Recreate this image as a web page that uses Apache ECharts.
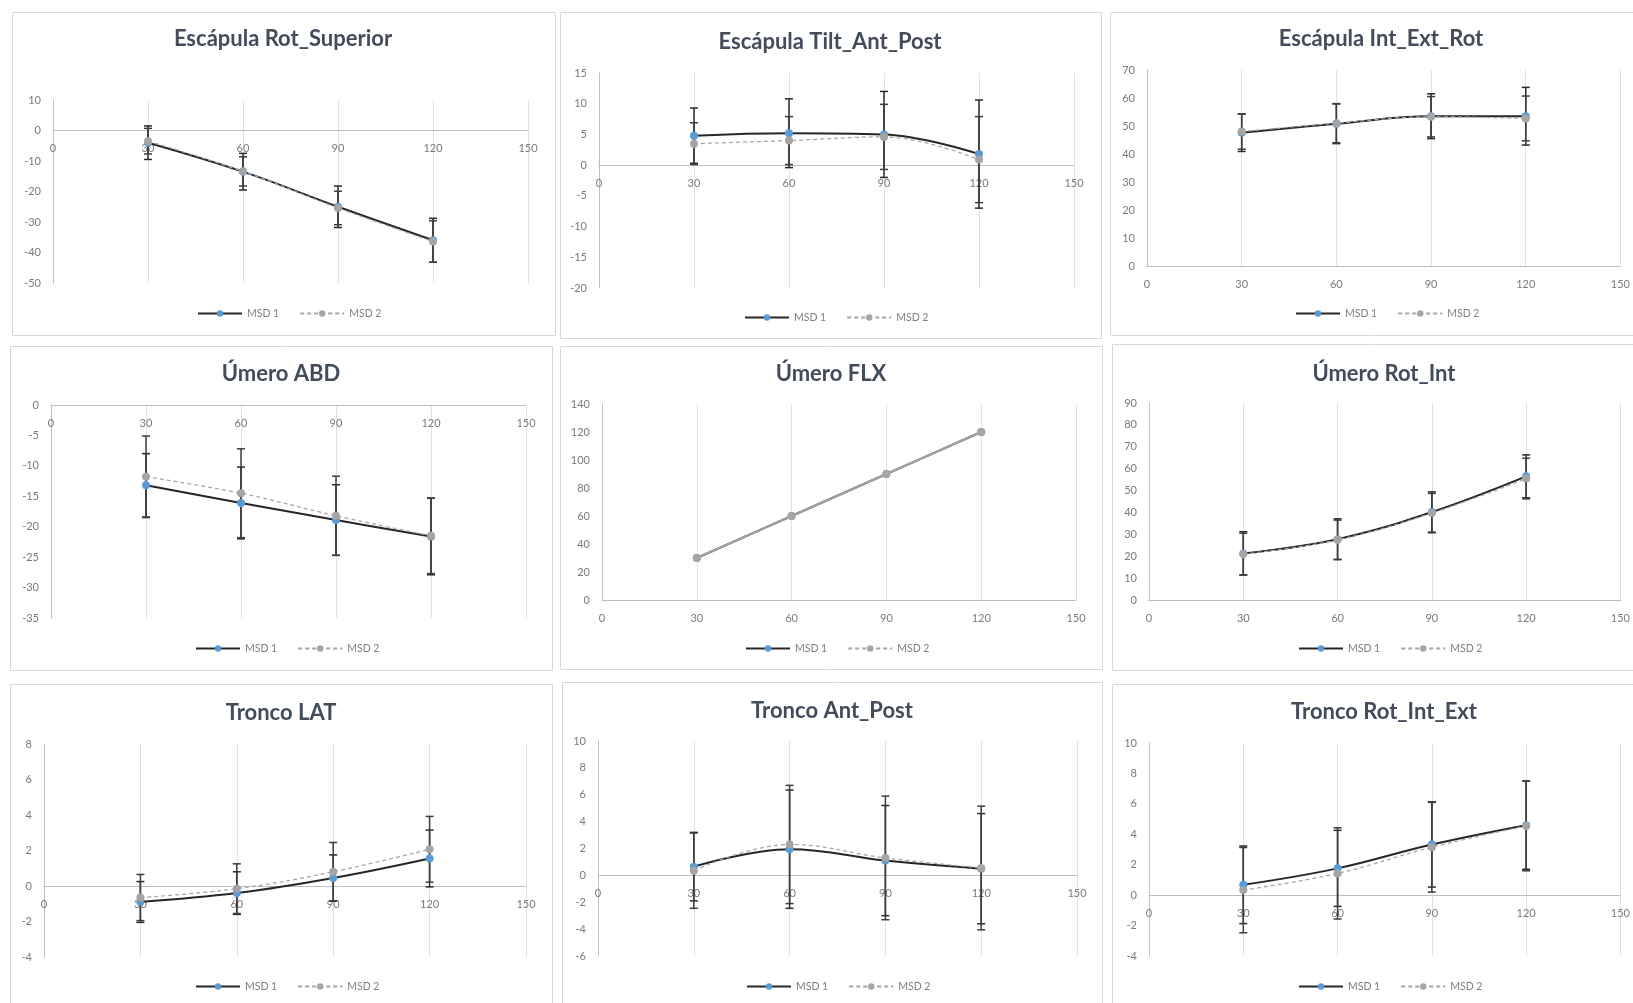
<!DOCTYPE html>
<html><head><meta charset="utf-8">
<script src="https://cdn.jsdelivr.net/npm/echarts@6.0.0/dist/echarts.min.js"></script>
<style>html,body{margin:0;padding:0;background:#fff}#c{width:1633px;height:1003px}</style>
</head><body><div id="c"></div>
<script>
// ---------------- DATA ----------------
const angles = [30, 60, 90, 120];
const seriesNames = ['MSD 1', 'MSD 2'];
const titles = ['Escápula Rot_Superior', 'Escápula Tilt_Ant_Post', 'Escápula Int_Ext_Rot',
  'Úmero ABD', 'Úmero FLX', 'Úmero Rot_Int',
  'Tronco LAT', 'Tronco Ant_Post', 'Tronco Rot_Int_Ext'];

const xMin = 0, xMax = 150, xInterval = 30;
const yMins = [-50, -20, 0, -35, 0, 0, -4, -6, -4];
const yMaxs = [10, 15, 70, 0, 140, 90, 8, 10, 10];
const yIntervals = [10, 5, 10, 5, 20, 10, 2, 2, 2];

// Escápula Rot_Superior
const escRotSup_m1 = [-4.0, -13.5, -25.0, -36.0];
const escRotSup_sd1 = [5.5, 6.0, 6.8, 7.2];
const escRotSup_m2 = [-3.5, -13.4, -25.4, -36.4];
const escRotSup_sd2 = [4.2, 4.8, 5.5, 6.8];
// Escápula Tilt_Ant_Post
const escTilt_m1 = [4.8, 5.2, 5.0, 1.8];
const escTilt_sd1 = [4.5, 5.6, 7.0, 8.8];
const escTilt_m2 = [3.5, 4.0, 4.6, 0.9];
const escTilt_sd2 = [3.4, 3.9, 5.3, 7.0];
// Escápula Int_Ext_Rot
const escIntExt_m1 = [47.6, 50.8, 53.5, 53.5];
const escIntExt_sd1 = [6.7, 7.1, 8.0, 10.3];
const escIntExt_m2 = [48.0, 51.0, 53.3, 52.7];
const escIntExt_sd2 = [6.3, 7.0, 7.2, 8.0];
// Úmero ABD
const umAbd_m1 = [-13.2, -16.1, -18.9, -21.6];
const umAbd_sd1 = [5.2, 5.9, 5.8, 6.3];
const umAbd_m2 = [-11.8, -14.5, -18.2, -21.5];
const umAbd_sd2 = [6.7, 7.3, 6.5, 6.2];
// Úmero FLX
const umFlx_m1 = [30, 60, 90, 120];
const umFlx_sd1 = [0, 0, 0, 0];
const umFlx_m2 = [30, 60, 90, 120];
const umFlx_sd2 = [0, 0, 0, 0];
// Úmero Rot_Int
const umRot_m1 = [21.3, 27.8, 40.2, 56.5];
const umRot_sd1 = [9.9, 9.3, 9.2, 9.8];
const umRot_m2 = [21.0, 27.5, 39.7, 55.5];
const umRot_sd2 = [9.5, 9.0, 9.0, 9.3];
// Tronco LAT
const trLat_m1 = [-0.9, -0.4, 0.45, 1.55];
const trLat_sd1 = [1.15, 1.2, 1.3, 1.6];
const trLat_m2 = [-0.65, -0.15, 0.8, 2.07];
const trLat_sd2 = [1.3, 1.4, 1.65, 1.85];
// Tronco Ant_Post
const trAp_m1 = [0.65, 1.95, 1.1, 0.5];
const trAp_sd1 = [2.55, 4.4, 4.1, 4.1];
const trAp_m2 = [0.35, 2.3, 1.3, 0.55];
const trAp_sd2 = [2.8, 4.4, 4.6, 4.6];
// Tronco Rot_Int_Ext
const trRot_m1 = [0.68, 1.76, 3.33, 4.6];
const trRot_sd1 = [2.55, 2.5, 2.8, 2.9];
const trRot_m2 = [0.33, 1.43, 3.15, 4.55];
const trRot_sd2 = [2.8, 3.0, 2.95, 2.95];

const panelData = [
  [escRotSup_m1, escRotSup_sd1, escRotSup_m2, escRotSup_sd2],
  [escTilt_m1, escTilt_sd1, escTilt_m2, escTilt_sd2],
  [escIntExt_m1, escIntExt_sd1, escIntExt_m2, escIntExt_sd2],
  [umAbd_m1, umAbd_sd1, umAbd_m2, umAbd_sd2],
  [umFlx_m1, umFlx_sd1, umFlx_m2, umFlx_sd2],
  [umRot_m1, umRot_sd1, umRot_m2, umRot_sd2],
  [trLat_m1, trLat_sd1, trLat_m2, trLat_sd2],
  [trAp_m1, trAp_sd1, trAp_m2, trAp_sd2],
  [trRot_m1, trRot_sd1, trRot_m2, trRot_sd2]
];

// ---------------- LAYOUT ----------------
const layout = [
 {grid:[53,100,475,183], box:[12,12,543,323], title:[283,42], legend:[283,314]},
 {grid:[599,73,475,215], box:[560,12,541,326], title:[830,45], legend:[830,318]},
 {grid:[1147,70,479,196], box:[1110,12,540,323], title:[1381,42], legend:[1381,314]},
 {grid:[51,405,475,213], box:[10,346,542,324], title:[281,377], legend:[281,649]},
 {grid:[602,404,474,196], box:[560,346,542,323], title:[831,377], legend:[831,649]},
 {grid:[1149,403,479,197], box:[1112,344,540,326], title:[1384,377], legend:[1384,649]},
 {grid:[44,744,482,213], box:[10,684,542,330], title:[281,716], legend:[281,987]},
 {grid:[598,741,479,215], box:[562,682,540,330], title:[832,714], legend:[832,987]},
 {grid:[1149,743,479,213], box:[1112,684,540,330], title:[1384,715], legend:[1384,987]}
];

const FONT = 'Lato, "Open Sans", sans-serif';
const C1_LINE = '#262626', C1_MARK = '#5B9BD5';
const C2_LINE = '#A5A5A5', C2_MARK = '#A5A5A5';
const TITLE_SIZE = 22;

function makeErr(color) {
  return function (params, api) {
    const x = api.value(0), lo = api.value(1), hi = api.value(2);
    if (!(hi - lo > 0)) return { type: 'group', children: [] };
    const a = api.coord([x, lo]), b = api.coord([x, hi]);
    const w = 4;
    const st = { stroke: color, lineWidth: 1.5 };
    return { type: 'group', children: [
      { type: 'line', shape: { x1: a[0], y1: a[1], x2: b[0], y2: b[1] }, style: st },
      { type: 'line', shape: { x1: a[0]-w, y1: a[1], x2: a[0]+w, y2: a[1] }, style: st },
      { type: 'line', shape: { x1: b[0]-w, y1: b[1], x2: b[0]+w, y2: b[1] }, style: st }
    ]};
  };
}

const grids = [], xAxes = [], yAxes = [], series = [], titleArr = [], legends = [], graphics = [];

layout.forEach((L, i) => {
  graphics.push({ type: 'rect', shape: { x: L.box[0] + 0.5, y: L.box[1] + 0.5, width: L.box[2], height: L.box[3] },
    style: { fill: '#fff', stroke: '#d9d9d9', lineWidth: 1 }, z: -10, silent: true });
  grids.push({ left: L.grid[0], top: L.grid[1], width: L.grid[2], height: L.grid[3], containLabel: false });
  titleArr.push({ text: titles[i], left: L.title[0], top: L.title[1] - Math.round(TITLE_SIZE * 0.62), textAlign: 'center', padding: 0,
    textStyle: { fontFamily: FONT, fontSize: TITLE_SIZE, fontWeight: 'bold', color: '#434c5b' } });
  legends.push({ data: seriesNames, left: L.legend[0] - 86, top: L.legend[1] - 6, itemWidth: 44, itemHeight: 8,
    itemGap: 20, padding: 0, selectedMode: false,
    textStyle: { fontFamily: FONT, fontSize: 10.5, color: '#7f7f7f' } });
  // place the x axis (line + labels) at y = 0 like the original
  const h = L.grid[3];
  const zeroOffset = -Math.round(h * (0 - yMins[i]) / (yMaxs[i] - yMins[i]));
  xAxes.push({ type: 'value', gridIndex: i, min: xMin, max: xMax, interval: xInterval,
    position: 'bottom', offset: zeroOffset,
    axisLine: { show: true, onZero: false, lineStyle: { color: '#bfbfbf', width: 1 } },
    axisTick: { show: false },
    axisLabel: { fontFamily: FONT, fontSize: 11, color: '#7a7a7a', margin: 13 },
    splitLine: { show: true, lineStyle: { color: '#e2e2e2', width: 1 } } });
  yAxes.push({ type: 'value', gridIndex: i, min: yMins[i], max: yMaxs[i], interval: yIntervals[i],
    axisLine: { show: true, onZero: false, lineStyle: { color: '#bfbfbf', width: 1 } },
    axisTick: { show: false },
    axisLabel: { fontFamily: FONT, fontSize: 11, color: '#7a7a7a', margin: 12 },
    splitLine: { show: false } });

  const [m1, s1, m2, s2] = panelData[i];
  series.push({ type: 'custom', name: 'err1_' + i, xAxisIndex: i, yAxisIndex: i, z: 2, silent: true,
    renderItem: makeErr('#2a2a2a'), encode: { x: 0, y: [1, 2] },
    data: angles.map((a, k) => [a, m1[k] - s1[k], m1[k] + s1[k]]) });
  series.push({ type: 'custom', name: 'err2_' + i, xAxisIndex: i, yAxisIndex: i, z: 2, silent: true,
    renderItem: makeErr('#3d3d3d'), encode: { x: 0, y: [1, 2] },
    data: angles.map((a, k) => [a, m2[k] - s2[k], m2[k] + s2[k]]) });
  series.push({ type: 'line', name: seriesNames[0], xAxisIndex: i, yAxisIndex: i, z: 3, silent: true,
    smooth: 0.4, symbol: 'circle', symbolSize: 8,
    itemStyle: { color: C1_MARK }, lineStyle: { color: C1_LINE, width: 2 },
    data: angles.map((a, k) => [a, m1[k]]) });
  series.push({ type: 'line', name: seriesNames[1], xAxisIndex: i, yAxisIndex: i, z: 4, silent: true,
    smooth: 0.4, symbol: 'circle', symbolSize: 8,
    itemStyle: { color: C2_MARK }, lineStyle: { color: C2_LINE, width: i === 4 ? 2 : 1.25, type: i === 4 ? 'solid' : [4, 3] },
    data: angles.map((a, k) => [a, m2[k]]) });
});

const chart = echarts.init(document.getElementById('c'), null, { renderer: 'canvas' });
chart.setOption({
  backgroundColor: '#ffffff',
  animation: false,
  title: titleArr,
  legend: legends,
  grid: grids,
  xAxis: xAxes,
  yAxis: yAxes,
  series: series,
  graphic: graphics
});
</script></body></html>
